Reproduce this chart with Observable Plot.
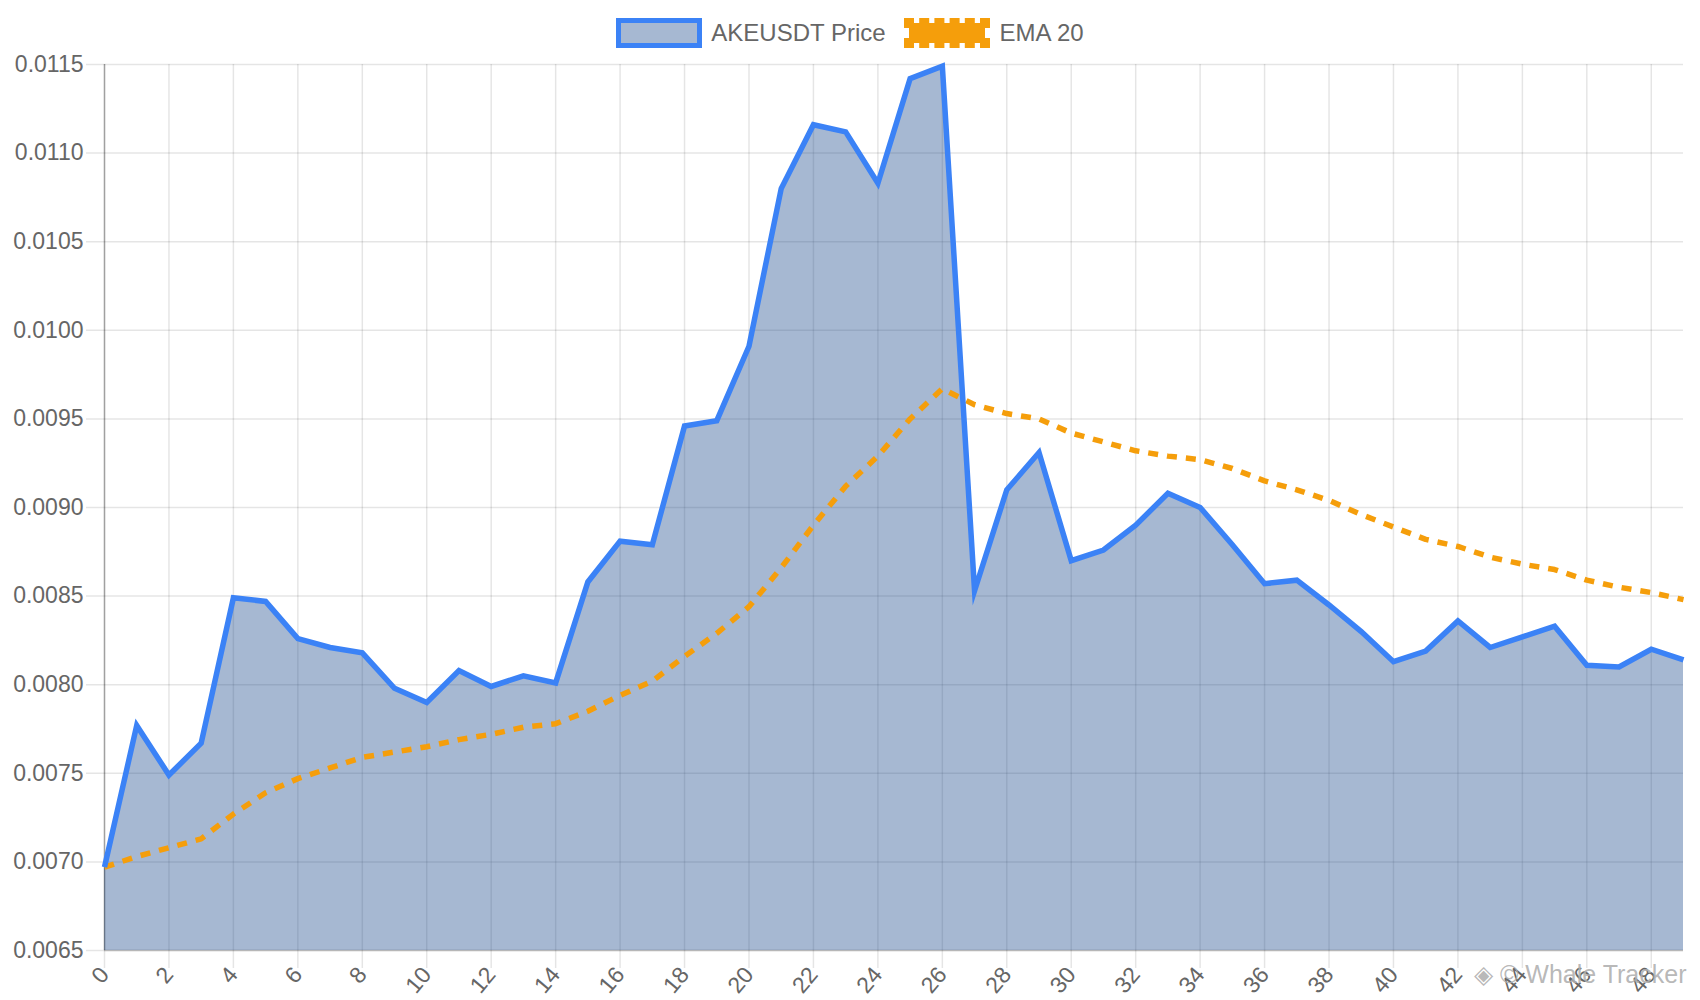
<!DOCTYPE html>
<html>
<head>
<meta charset="utf-8">
<script src="https://cdn.jsdelivr.net/npm/d3@7"></script>
<script src="https://cdn.jsdelivr.net/npm/@observablehq/plot@0.6"></script>
<style>
  html, body { margin: 0; padding: 0; background: #fff; }
  body { width: 1700px; height: 1000px; position: relative; overflow: hidden; font-family: "Liberation Sans", Arial, Helvetica, sans-serif; }
  #legend { height: 50px; box-sizing: border-box; padding-top: 16px; display: flex; justify-content: center; align-items: center; color: #666; font-size: 24px; }
  .box { width: 76px; height: 20px; box-sizing: content-box; }
  .b1 { border: 5px solid #3b82f6; background: #a6b8d2; margin-right: 9px; }
  .b2 { border: 5px dashed #f59e0b; background: #f59e0b; background-clip: padding-box; margin-right: 10px; margin-left: 18px; }
  #wm { position: absolute; left: 1474px; top: 960px; font-size: 25px; color: rgba(175,175,175,0.9); white-space: nowrap; }
</style>
</head>
<body>
<div id="legend"><span class="box b1"></span><span>AKEUSDT Price</span><span class="box b2"></span><span>EMA 20</span></div>
<div id="chart"></div>
<div id="wm">◈ © Whale Tracker</div>
<script>
const seriesNames = ["AKEUSDT Price", "EMA 20"];
const indices = d3.range(0, 50);
const price = [
  0.00697, 0.00777, 0.00749, 0.00767, 0.00849, 0.00847, 0.00826, 0.00821, 0.00818, 0.00798,
  0.00790, 0.00808, 0.00799, 0.00805, 0.00801, 0.00858, 0.00881, 0.00879, 0.00946, 0.00949,
  0.00991, 0.01080, 0.01116, 0.01112, 0.01083, 0.01142, 0.01149, 0.00853, 0.00910, 0.00931,
  0.00870, 0.00876, 0.00890, 0.00908, 0.00900, 0.00879, 0.00857, 0.00859, 0.00845, 0.00830,
  0.00813, 0.00819, 0.00836, 0.00821, 0.00827, 0.00833, 0.00811, 0.00810, 0.00820, 0.00814
];
const ema20 = [
  0.00697, 0.00703, 0.00708, 0.00713, 0.00727, 0.00739, 0.00747, 0.00753, 0.00759, 0.00762,
  0.00765, 0.00769, 0.00772, 0.00776, 0.00778, 0.00785, 0.00794, 0.00802, 0.00816, 0.00829,
  0.00844, 0.00866, 0.00890, 0.00912, 0.00929, 0.00950, 0.00967, 0.00958, 0.00953, 0.00950,
  0.00942, 0.00937, 0.00932, 0.00929, 0.00927, 0.00922, 0.00915, 0.00910, 0.00904, 0.00896,
  0.00889, 0.00882, 0.00878, 0.00872, 0.00868, 0.00865, 0.00859, 0.00855, 0.00852, 0.00848
];
const xTicks = d3.range(0, 50, 2);
const yTicks = [0.0065, 0.0070, 0.0075, 0.0080, 0.0085, 0.0090, 0.0095, 0.0100, 0.0105, 0.0110, 0.0115];
const yMin = 0.0065, yMax = 0.0115;

const data = indices.map((i) => ({ i, price: price[i], ema: ema20[i] }));

const chart = Plot.plot({
  width: 1700,
  height: 950,
  marginTop: 14,
  marginBottom: 50,
  marginLeft: 104,
  marginRight: 17,
  style: { fontFamily: "Liberation Sans, Arial, sans-serif", background: "#fff", overflow: "visible" },
  x: { type: "linear", domain: [0, 49], axis: null },
  y: { domain: [yMin, yMax], axis: null },
  marks: [
    Plot.ruleY(yTicks, { stroke: "#000", strokeOpacity: 0.1, strokeWidth: 1.5, insetLeft: -18 }),
    Plot.ruleX(xTicks, { stroke: "#000", strokeOpacity: 0.1, strokeWidth: 1.5, insetBottom: -18 }),
    Plot.areaY(data, { x: "i", y1: () => yMin, y2: "price", fill: "rgb(33,78,142)", fillOpacity: 0.4 }),
    Plot.ruleX([0], { stroke: "#000", strokeOpacity: 0.3, strokeWidth: 1.5 }),
    Plot.ruleY([yMin], { stroke: "#000", strokeOpacity: 0.2, strokeWidth: 1.5 }),
    Plot.line(data, { x: "i", y: "ema", stroke: "#f59e0b", strokeWidth: 5.5, strokeDasharray: "10,9", strokeLinecap: "butt", strokeLinejoin: "miter" }),
    Plot.line(data, { x: "i", y: "price", stroke: "#3b82f6", strokeWidth: 5.5, strokeLinecap: "butt", strokeLinejoin: "miter", strokeMiterlimit: 10 }),
    Plot.axisY({ ticks: yTicks, tickSize: 0, tickPadding: 21, tickFormat: (d) => d.toFixed(4), fontSize: 23, fill: "#666", label: null }),
    Plot.axisX({ ticks: xTicks, tickSize: 0, tickPadding: 20, tickRotate: -50, tickFormat: (d) => String(d), fontSize: 23, fill: "#666", label: null })
  ]
});
document.getElementById("chart").appendChild(chart);
</script>
</body>
</html>
